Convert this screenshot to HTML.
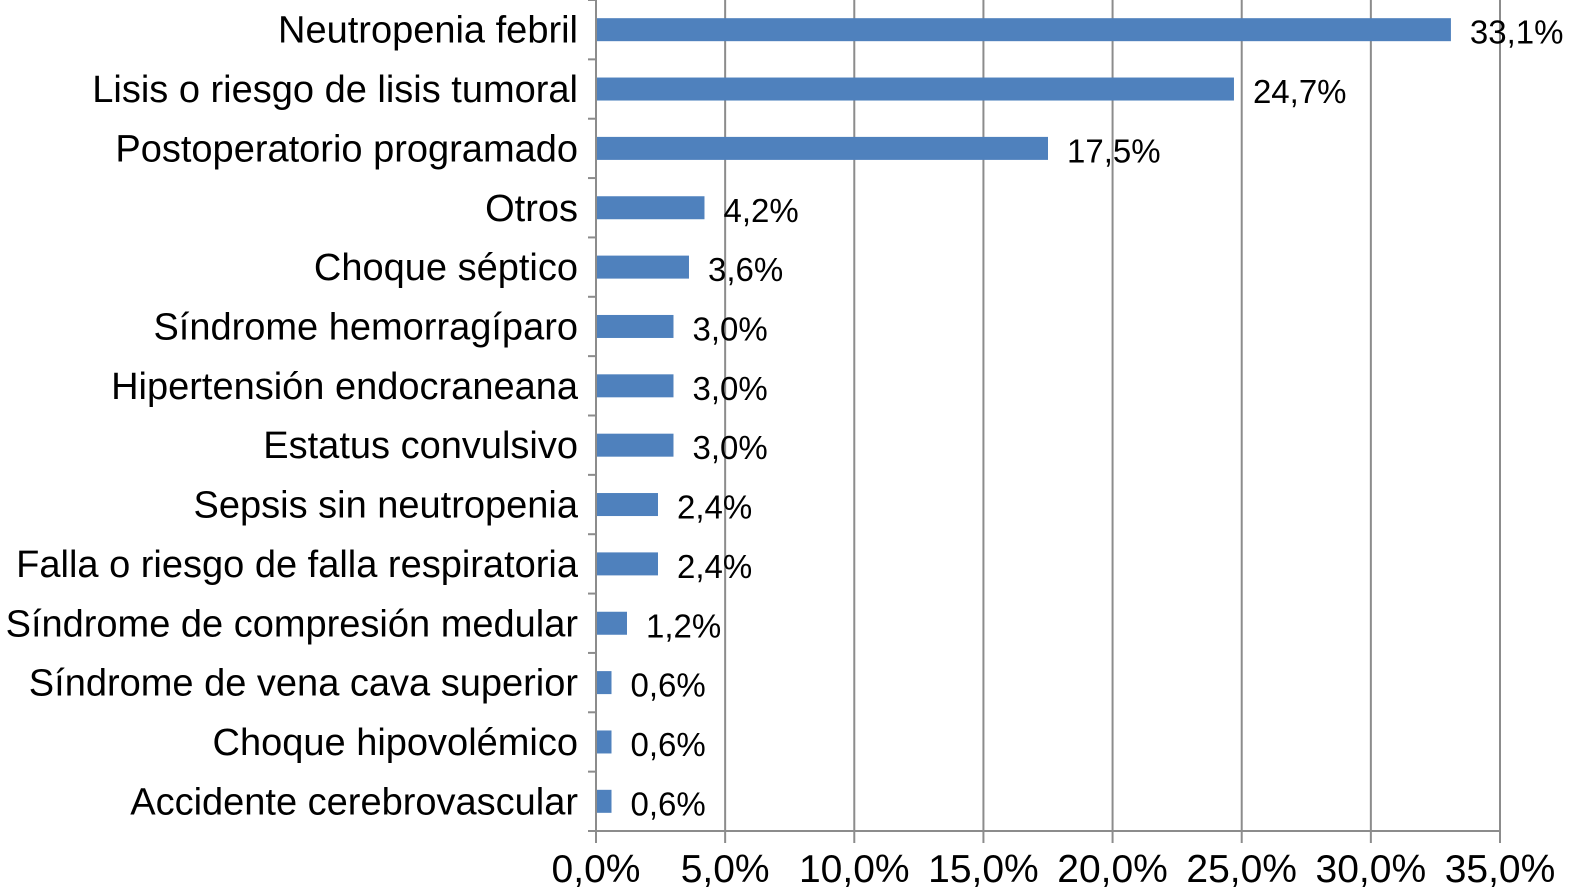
<!DOCTYPE html>
<html><head><meta charset="utf-8"><style>
html,body{margin:0;padding:0;background:#fff;}
svg{display:block;font-family:"Liberation Sans",Arial,sans-serif;}
</style></head><body>
<svg id="chart" width="1580" height="894"></svg>
<script>
const categories=["Neutropenia febril","Lisis o riesgo de lisis tumoral","Postoperatorio programado","Otros","Choque séptico","Síndrome hemorragíparo","Hipertensión endocraneana","Estatus convulsivo","Sepsis sin neutropenia","Falla o riesgo de falla respiratoria","Síndrome de compresión medular","Síndrome de vena cava superior","Choque hipovolémico","Accidente cerebrovascular"];
const values=[33.1,24.7,17.5,4.2,3.6,3.0,3.0,3.0,2.4,2.4,1.2,0.6,0.6,0.6];
const valueLabels=["33,1%","24,7%","17,5%","4,2%","3,6%","3,0%","3,0%","3,0%","2,4%","2,4%","1,2%","0,6%","0,6%","0,6%"];
const ticks=[0,5,10,15,20,25,30,35];
const tickLabels=["0,0%","5,0%","10,0%","15,0%","20,0%","25,0%","30,0%","35,0%"];

const svg=document.getElementById('chart');
const NS='http://www.w3.org/2000/svg';
const x0=596,x1=1500,plotTop=0,plotBottom=831;
const xs=v=>x0+(v/35)*(x1-x0);
const band=(plotBottom-plotTop)/categories.length;
const yc=i=>plotTop+band*(i+0.5);
function mk(t,a,p){const e=document.createElementNS(NS,t);for(const k in a)e.setAttribute(k,a[k]);(p||svg).appendChild(e);return e;}

ticks.forEach((t,i)=>{
  if(t>0){const g=mk('line',{x1:xs(t),x2:xs(t),y1:plotTop,y2:plotBottom,stroke:'#8c8c8c','stroke-width':2});
  
  }
  const tk=mk('line',{x1:xs(t),x2:xs(t),y1:plotBottom,y2:843,stroke:'#8c8c8c','stroke-width':2});
  
  
  const tl=mk('text',{x:xs(t),y:882,'text-anchor':'middle','font-size':39,fill:'#000'});
  tl.textContent=tickLabels[i];
  
  
});
const xa=mk('line',{x1:x0,x2:x1,y1:plotBottom,y2:plotBottom,stroke:'#8c8c8c','stroke-width':2});


const ya=mk('line',{x1:x0,x2:x0,y1:plotTop,y2:plotBottom,stroke:'#8c8c8c','stroke-width':2});


for(let i=0;i<=categories.length;i++){
  const t=mk('line',{x1:588,x2:x0,y1:plotTop+band*i,y2:plotTop+band*i,stroke:'#8c8c8c','stroke-width':2});
  
  
}
categories.forEach((c,i)=>{
  const y=yc(i);
  const b=mk('rect',{x:x0+1,y:y-11.5,width:xs(values[i])-x0-1,height:23,fill:'#4f81bd'});
  
  
  const l=mk('text',{x:578,y:y+13,'text-anchor':'end','font-size':38,fill:'#000'});
  l.textContent=c;
  
  
  const v=mk('text',{x:xs(values[i])+19,y:y+14,'font-size':33,fill:'#000'});
  v.textContent=valueLabels[i];
  
  
});
</script>
</body></html>
